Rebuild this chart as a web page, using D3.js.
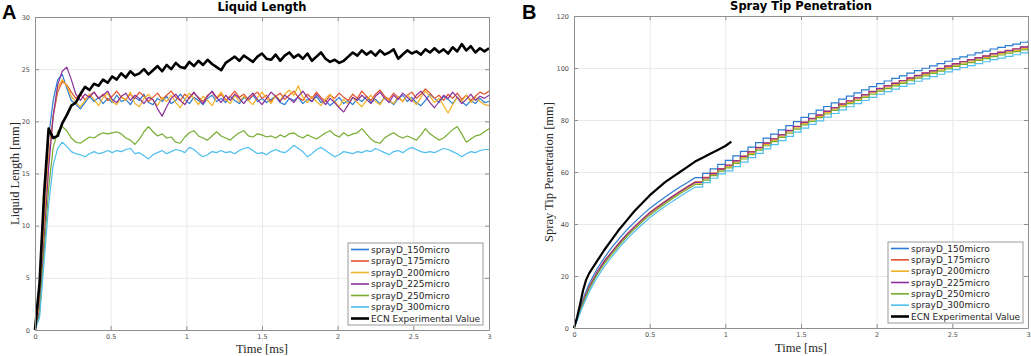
<!DOCTYPE html>
<html>
<head>
<meta charset="utf-8">
<script src="https://cdn.jsdelivr.net/npm/d3@7"></script>
<style>
body { margin: 0; background: #fff; }
svg { display: block; }
.tick text { font-family: "DejaVu Sans", sans-serif; font-size: 6.5px; fill: #4d4d4d; }
.ax-label { font-family: "Liberation Serif", serif; font-size: 12.5px; fill: #262626; }
.title { font-family: "DejaVu Sans", sans-serif; font-weight: bold; font-size: 11.5px; fill: #000; }
.letter { font-family: "Liberation Sans", Arial, sans-serif; font-weight: bold; font-size: 20px; fill: #000; }
.legend text { font-family: "DejaVu Sans", sans-serif; font-size: 9px; fill: #262626; }
</style>
</head>
<body>
<svg id="chart" width="1031" height="356"></svg>
<script>
// ---- data: panel A, liquid length [mm] vs time [ms]
const timeA = [0, 0.03, 0.06, 0.09, 0.12, 0.15, 0.18, 0.21, 0.24, 0.27,
  0.3, 0.33, 0.36, 0.39, 0.42, 0.45, 0.48, 0.51, 0.54, 0.57,
  0.6, 0.63, 0.66, 0.69, 0.72, 0.75, 0.78, 0.81, 0.84, 0.87,
  0.9, 0.93, 0.96, 0.99, 1.02, 1.05, 1.08, 1.11, 1.14, 1.17,
  1.2, 1.23, 1.26, 1.29, 1.32, 1.35, 1.38, 1.41, 1.44, 1.47,
  1.5, 1.53, 1.56, 1.59, 1.62, 1.65, 1.68, 1.71, 1.74, 1.77,
  1.8, 1.83, 1.86, 1.89, 1.92, 1.95, 1.98, 2.01, 2.04, 2.07,
  2.1, 2.13, 2.16, 2.19, 2.22, 2.25, 2.28, 2.31, 2.34, 2.37,
  2.4, 2.43, 2.46, 2.49, 2.52, 2.55, 2.58, 2.61, 2.64, 2.67,
  2.7, 2.73, 2.76, 2.79, 2.82, 2.85, 2.88, 2.91, 2.94, 2.97,
  3.0];

const lenD150 = [0, 3, 12, 18.5, 22, 24, 24.5, 23.2, 22.0, 21.6,
  21.2, 21.8, 22.4, 21.9, 22.3, 21.7, 22.2, 21.8, 22.5, 21.9,
  22.1, 21.6, 22.3, 22.0, 22.6, 21.8, 21.6, 22.2, 21.9, 22.4,
  21.7, 22.0, 22.6, 22.1, 21.7, 22.3, 22.0, 21.6, 22.2, 22.5,
  21.9, 22.2, 21.8, 22.4, 22.0, 21.7, 22.3, 22.0, 22.5, 21.9,
  22.2, 21.8, 22.1, 22.4, 21.8, 21.6, 22.2, 22.0, 22.3, 21.7,
  22.1, 21.9, 22.4, 21.8, 22.0, 21.5, 21.9, 22.3, 21.7, 22.0,
  21.6, 22.2, 21.9, 22.4, 21.8, 22.1, 21.7, 22.3, 22.0, 21.6,
  22.2, 22.5, 21.9, 22.3, 21.8, 21.5, 22.0, 22.6, 22.2, 21.8,
  22.4, 22.1, 21.7, 22.3, 21.9, 21.5, 22.0, 21.7, 22.2, 21.8,
  21.9];

const lenD175 = [0, 2.5, 10, 16.5, 20.5, 22.8, 23.8, 23.5, 22.8, 22.2,
  22.6, 22.1, 22.5, 22.8, 22.2, 22.6, 22.0, 22.4, 22.9, 22.3,
  22.1, 22.6, 22.2, 22.8, 22.4, 21.9, 22.3, 22.7, 22.1, 22.5,
  22.9, 22.3, 22.0, 22.6, 22.2, 22.7, 22.3, 21.9, 22.5, 22.8,
  22.2, 22.6, 22.0, 22.4, 22.9, 22.3, 22.6, 22.1, 22.5, 22.8,
  22.2, 22.5, 21.9, 22.4, 22.7, 22.1, 22.5, 22.9, 22.3, 22.0,
  22.6, 22.2, 22.8, 22.3, 21.9, 22.5, 22.2, 22.7, 22.3, 22.0,
  22.6, 22.2, 22.9, 22.4, 22.0, 22.6, 23.0, 22.4, 22.1, 22.7,
  22.3, 21.9, 22.5, 22.8, 22.2, 22.6, 23.1, 22.7, 22.2, 22.5,
  22.0, 22.6, 22.2, 22.7, 22.1, 22.5, 22.0, 22.4, 22.8, 22.6,
  22.9];

const lenD200 = [0, 2.2, 9.5, 16, 20.5, 23.2, 24.0, 23.4, 22.4, 21.8,
  21.4, 22.0, 22.6, 22.1, 21.5, 22.3, 22.7, 21.9, 21.6, 22.4,
  22.0, 22.8, 21.7, 21.4, 22.2, 22.6, 22.0, 21.5, 22.3, 21.9,
  22.5, 21.8, 21.3, 22.1, 22.7, 22.2, 21.6, 22.4, 22.0, 21.5,
  22.3, 22.8, 22.1, 21.7, 22.5, 21.9, 22.4, 22.0, 21.6, 22.3,
  22.8, 22.2, 21.7, 22.5, 22.0, 22.6, 23.0, 22.5, 23.4, 22.3,
  21.8, 22.4, 21.9, 21.5, 22.2, 22.6, 21.9, 21.4, 22.1, 21.7,
  22.3, 21.8, 21.4, 22.0, 22.5, 21.9, 21.6, 22.3, 22.0, 21.7,
  22.4, 21.9, 22.5, 22.1, 21.6, 22.3, 22.9, 22.4, 21.8, 22.2,
  21.5, 20.8, 21.6, 22.3, 21.9, 22.5, 21.8, 22.3, 21.9, 21.6,
  21.5];

const lenD225 = [0, 1.8, 8.5, 15.5, 20.5, 23.5, 24.8, 25.2, 24.0, 22.6,
  22.0, 22.6, 22.3, 22.8, 22.2, 22.5, 22.9, 22.1, 21.8, 22.4,
  22.7, 22.0, 22.5, 22.2, 21.7, 22.3, 22.1, 21.2, 20.5, 21.4,
  22.2, 22.6, 22.0, 21.6, 22.3, 22.8, 22.2, 21.7, 22.4, 22.9,
  22.3, 21.8, 22.5, 22.0, 22.6, 22.2, 21.7, 22.3, 22.7, 22.1,
  21.6, 22.2, 22.8, 22.4, 21.9, 22.5, 22.2, 21.8, 22.4, 22.9,
  22.3, 21.9, 22.6, 22.1, 21.6, 22.2, 21.8, 21.3, 20.9, 21.6,
  22.3, 22.0, 22.5, 22.1, 21.7, 22.4, 22.8, 22.2, 21.8, 22.5,
  22.1, 22.7, 22.3, 21.9, 22.5, 22.9, 22.4, 21.8, 21.3, 21.9,
  22.5, 22.2, 22.8, 22.3, 21.7, 22.1, 22.6, 22.0, 22.4, 22.2,
  22.5];

const lenD250 = [0, 1.5, 7.5, 13.5, 17.5, 19.0, 19.5, 19.1, 18.4, 18.0,
  17.9, 18.2, 18.5, 18.4, 18.7, 18.9, 18.8, 18.9, 19.0, 18.8,
  18.4, 18.2, 17.8, 18.3, 19.0, 19.5, 19.0, 18.6, 18.8, 18.4,
  18.5, 18.0, 17.9, 18.5, 18.9, 19.1, 18.6, 18.4, 18.2, 18.6,
  19.0, 18.6, 18.4, 18.2, 18.6, 18.9, 19.1, 18.6, 18.5, 18.8,
  18.7, 18.5, 18.6, 18.4, 18.7, 18.5, 18.8, 18.9, 18.6, 18.4,
  18.7, 18.5, 18.3, 18.6, 18.9, 19.1, 18.7, 18.5, 18.9, 18.6,
  18.8, 18.9, 19.3, 18.8, 18.3, 18.0, 17.9, 18.4, 18.7, 18.9,
  18.6, 18.4, 18.6, 18.4, 18.2, 18.7, 19.3, 18.8, 18.5, 18.2,
  18.4, 18.8, 19.2, 19.5, 18.8, 18.0, 18.3, 18.6, 18.7, 19.0,
  19.3];

const lenD300 = [0, 1.2, 6.5, 12, 15.8, 17.4, 18.0, 17.6, 17.1, 16.9,
  16.8, 16.6, 16.9, 17.1, 16.9, 17.0, 17.2, 17.0, 17.2, 17.1,
  17.3, 17.4, 16.9, 17.0, 16.7, 16.4, 16.8, 17.0, 17.2, 16.9,
  17.1, 17.3, 17.2, 17.0, 17.5, 17.3, 16.9, 16.6, 16.8, 17.1,
  17.0, 17.2, 17.0, 17.1, 16.9, 17.2, 17.4, 17.5, 17.2, 16.9,
  17.0, 16.8, 17.1, 17.3, 17.1, 17.0, 17.3, 17.7, 17.4, 17.1,
  16.6, 16.9, 17.3, 17.5, 17.2, 16.9, 16.6, 16.8, 17.1, 17.0,
  16.9, 17.1, 17.0, 17.2, 17.1, 17.4, 17.2, 17.0, 16.8, 17.1,
  17.2, 17.0, 17.3, 17.5, 17.3, 17.1, 17.0, 17.1, 17.0, 17.2,
  17.4, 17.3, 17.1, 16.9, 16.6, 16.9, 17.1, 17.0, 17.2, 17.3,
  17.3];

const lenECN = [0, 4.5, 13, 19.3, 18.4, 18.6, 19.8, 20.6, 21.5, 21.8,
  22.6, 23.3, 23.0, 23.6, 23.4, 24.0, 23.7, 24.3, 24.0, 24.6,
  24.2, 24.8, 24.4, 24.6, 25.0, 24.5, 24.9, 25.3, 24.8, 25.4,
  25.0, 25.6, 25.2, 25.1, 25.7, 25.3, 25.8, 25.4, 25.9, 25.5,
  25.2, 24.9, 25.6, 25.9, 26.2, 25.8, 26.3, 26.0, 25.7, 26.2,
  26.5, 26.0, 25.9, 26.4, 25.8, 26.3, 26.6, 26.1, 26.4, 26.0,
  26.5, 25.8, 26.2, 26.6, 26.0, 25.7, 25.9, 25.6, 25.8, 26.2,
  26.6, 26.3, 26.8, 26.4, 26.7, 26.3, 26.8, 26.4, 26.6, 26.9,
  26.0, 26.4, 26.8, 26.5, 26.7, 26.4, 26.9, 26.6, 27.0, 26.6,
  26.9, 26.5, 27.1, 26.7, 27.4, 26.8, 27.2, 26.6, 27.0, 26.7,
  27.0];

// ---- data: panel B, spray tip penetration [mm] vs time [ms]
const timeB = [0, 0.025, 0.05, 0.075, 0.1, 0.15, 0.2, 0.25, 0.3, 0.35,
  0.4, 0.45, 0.5, 0.55, 0.6, 0.65, 0.7, 0.75, 0.8, 0.85,
  0.9, 0.95, 1.0, 1.05, 1.1, 1.15, 1.2, 1.25, 1.3, 1.35,
  1.4, 1.45, 1.5, 1.55, 1.6, 1.65, 1.7, 1.75, 1.8, 1.85,
  1.9, 1.95, 2.0, 2.05, 2.1, 2.15, 2.2, 2.25, 2.3, 2.35,
  2.4, 2.45, 2.5, 2.55, 2.6, 2.65, 2.7, 2.75, 2.8, 2.85,
  2.9, 2.95, 3.0];

const penD150 = [0, 5, 9.5, 13.5, 17, 22.5, 27, 31, 34.5, 37.8,
  40.7, 43.4, 46, 48.2, 50.3, 52.3, 54.2, 56, 57.8, 59.5,
  61.2, 62.9, 64.5, 66.2, 67.9, 69.6, 71.3, 73, 74.6, 76.2,
  77.8, 79.4, 81, 82.4, 83.8, 85.2, 86.6, 88, 89.2, 90.4,
  91.6, 92.8, 94, 95, 96, 97, 98, 99, 99.9, 100.8,
  101.7, 102.6, 103.5, 104.3, 105, 105.8, 106.5, 107.3, 107.9, 108.6,
  109.2, 109.9, 110.5];

const penD175 = [0, 4.5, 8.7, 12.5, 15.9, 21.3, 25.8, 29.4, 32.9, 36.2,
  39.1, 41.8, 44.4, 46.6, 48.7, 50.7, 52.6, 54.4, 56.2, 57.9,
  59.6, 61.3, 62.7, 64.4, 66.1, 67.8, 69.5, 71.2, 72.8, 74.4,
  76, 77.6, 79.2, 80.6, 82, 83.4, 84.8, 86.2, 87.4, 88.6,
  89.8, 91, 92.2, 93.2, 94.2, 95.2, 96.2, 97.2, 98.1, 99,
  99.9, 100.8, 101.7, 102.5, 103.2, 104, 104.7, 105.5, 106.1, 106.8,
  107.4, 108.1, 108.7];

const penD200 = [0, 4.2, 8.3, 12, 15.4, 20.8, 25.2, 28.9, 32.4, 35.7,
  38.6, 41.3, 43.9, 46.1, 48.2, 50.2, 52.1, 53.9, 55.7, 57.4,
  59.1, 60.8, 62.1, 63.8, 65.5, 67.2, 68.9, 70.6, 72.2, 73.8,
  75.4, 77, 78.6, 80, 81.4, 82.8, 84.2, 85.6, 86.8, 88,
  89.2, 90.4, 91.6, 92.6, 93.6, 94.6, 95.6, 96.6, 97.5, 98.4,
  99.3, 100.2, 101.1, 101.9, 102.6, 103.4, 104.1, 104.9, 105.5, 106.2,
  106.8, 107.5, 108.1];

const penD225 = [0, 4.3, 8.5, 12.2, 15.6, 21, 25.5, 29.2, 32.7, 36,
  38.9, 41.6, 44.2, 46.4, 48.5, 50.5, 52.4, 54.2, 56, 57.7,
  59.4, 61.1, 62.6, 64.3, 66, 67.7, 69.4, 71.1, 72.7, 74.3,
  75.9, 77.5, 79.1, 80.5, 81.9, 83.3, 84.7, 86.1, 87.3, 88.5,
  89.7, 90.9, 92.1, 93.1, 94.1, 95.1, 96.1, 97.1, 98, 98.9,
  99.8, 100.7, 101.6, 102.4, 103.1, 103.9, 104.6, 105.4, 106, 106.7,
  107.3, 108, 108.6];

const penD250 = [0, 4, 8, 11.6, 14.9, 20.3, 24.7, 28.4, 31.9, 35.2,
  38.1, 40.8, 43.4, 45.6, 47.7, 49.7, 51.6, 53.4, 55.2, 56.9,
  58.6, 60.3, 61.6, 63.3, 65, 66.7, 68.4, 70.1, 71.7, 73.3,
  74.9, 76.5, 78.1, 79.5, 80.9, 82.3, 83.7, 85.1, 86.3, 87.5,
  88.7, 89.9, 91.1, 92.1, 93.1, 94.1, 95.1, 96.1, 97, 97.9,
  98.8, 99.7, 100.6, 101.4, 102.1, 102.9, 103.6, 104.4, 105, 105.7,
  106.3, 107, 107.6];

const penD300 = [0, 3.5, 7.2, 10.6, 13.8, 19.2, 23.6, 27.4, 30.9, 34.2,
  37.1, 39.8, 42.4, 44.6, 46.7, 48.7, 50.6, 52.4, 54.2, 55.9,
  57.6, 59.3, 60.4, 62.1, 63.8, 65.5, 67.2, 68.9, 70.5, 72.1,
  73.7, 75.3, 76.9, 78.3, 79.7, 81.1, 82.5, 83.9, 85.1, 86.3,
  87.5, 88.7, 89.9, 90.9, 91.9, 92.9, 93.9, 94.9, 95.8, 96.7,
  97.6, 98.5, 99.4, 100.2, 100.9, 101.7, 102.4, 103.2, 103.8, 104.5,
  105.1, 105.8, 106.4];

const timeECN_B = [0, 0.02, 0.04, 0.06, 0.08, 0.1, 0.15, 0.2, 0.25, 0.3,
  0.35, 0.4, 0.45, 0.5, 0.55, 0.6, 0.65, 0.7, 0.75, 0.8,
  0.85, 0.9, 0.95, 1.0, 1.04];
const penECN = [0, 4, 9, 14.5, 18.5, 21, 25.5, 30, 34, 38,
  41.5, 45, 48, 51, 53.5, 56, 58, 60, 62, 64,
  65.5, 67, 68.5, 70, 71.7];

const seriesNames = ["sprayD_150micro", "sprayD_175micro", "sprayD_200micro",
  "sprayD_225micro", "sprayD_250micro", "sprayD_300micro"];
const expName = "ECN Experimental Value";
const xTicks = [0, 0.5, 1, 1.5, 2, 2.5, 3];
const yTicksA = [0, 5, 10, 15, 20, 25, 30];
const yTicksB = [0, 20, 40, 60, 80, 100, 120];

const seriesColors = ["#2a7bd2", "#e2502b", "#f0b224", "#8a2f9a", "#77ac30", "#4dbeee"];

const svg = d3.select("#chart");

function drawAxes(box, yTicks, yMax) {
  const x = d3.scaleLinear().domain([0, 3]).range([box.left, box.right]);
  const y = d3.scaleLinear().domain([0, yMax]).range([box.bottom, box.top]);
  const w = box.right - box.left;
  const h = box.bottom - box.top;
  const g = svg.append("g");

  // grid
  g.append("g")
    .attr("transform", `translate(0,${box.bottom})`)
    .call(d3.axisBottom(x).tickValues(xTicks).tickSize(-h).tickFormat(""))
    .call(a => a.select(".domain").remove())
    .selectAll("line").attr("stroke", "#e8e8e8");
  g.append("g")
    .attr("transform", `translate(${box.left},0)`)
    .call(d3.axisLeft(y).tickValues(yTicks).tickSize(-w).tickFormat(""))
    .call(a => a.select(".domain").remove())
    .selectAll("line").attr("stroke", "#e8e8e8");

  return { x, y, g };
}

function drawFrame(box, ax, yTicks) {
  const tickCol = "#8f8f8f";
  const fr = svg.append("g");
  const bottom = fr.append("g")
    .attr("transform", `translate(0,${box.bottom})`)
    .call(d3.axisBottom(ax.x).tickValues(xTicks).tickSizeInner(-4).tickSizeOuter(0)
      .tickPadding(4).tickFormat(d => d));
  const top = fr.append("g")
    .attr("transform", `translate(0,${box.top})`)
    .call(d3.axisTop(ax.x).tickValues(xTicks).tickSizeInner(-4).tickSizeOuter(0).tickFormat(""));
  const left = fr.append("g")
    .attr("transform", `translate(${box.left},0)`)
    .call(d3.axisLeft(ax.y).tickValues(yTicks).tickSizeInner(-4).tickSizeOuter(0)
      .tickPadding(5).tickFormat(d => d));
  const right = fr.append("g")
    .attr("transform", `translate(${box.right},0)`)
    .call(d3.axisRight(ax.y).tickValues(yTicks).tickSizeInner(-4).tickSizeOuter(0).tickFormat(""));
  [bottom, top, left, right].forEach(a => {
    a.select(".domain").attr("stroke", tickCol);
    a.selectAll(".tick line").attr("stroke", tickCol);
  });
}

function drawLegend(lx, ly, lw, lh) {
  const lg = svg.append("g").attr("class", "legend");
  lg.append("rect")
    .attr("x", lx).attr("y", ly).attr("width", lw).attr("height", lh)
    .attr("fill", "#fff").attr("stroke", "#9a9a9a").attr("stroke-width", 1);
  const items = seriesNames.map((n, i) => ({ name: n, color: seriesColors[i], width: 1.6 }))
    .concat([{ name: expName, color: "#000", width: 2.6 }]);
  const rowH = (lh - 13) / (items.length - 1);
  items.forEach((d, i) => {
    const cy = ly + 6.5 + i * rowH;
    lg.append("line")
      .attr("x1", lx + 3).attr("x2", lx + 21)
      .attr("y1", cy).attr("y2", cy)
      .attr("stroke", d.color).attr("stroke-width", d.width);
    lg.append("text")
      .attr("x", lx + 23).attr("y", cy)
      .attr("dy", "0.35em")
      .text(d.name);
  });
}

// ---------------- Panel A
const boxA = { left: 35, right: 489, top: 17, bottom: 330 };
const axA = drawAxes(boxA, yTicksA, 30);
const lenSeries = [lenD150, lenD175, lenD200, lenD225, lenD250, lenD300];

const lineA = d3.line()
  .x((d, i) => axA.x(timeA[i]))
  .y(d => axA.y(d));

lenSeries.forEach((s, k) => {
  svg.append("path")
    .attr("d", lineA(s))
    .attr("fill", "none")
    .attr("stroke", seriesColors[k])
    .attr("stroke-width", 1.2)
    .attr("stroke-linejoin", "round");
});
svg.append("path")
  .attr("d", lineA(lenECN))
  .attr("fill", "none")
  .attr("stroke", "#000")
  .attr("stroke-width", 2.6)
  .attr("stroke-linejoin", "round");

drawFrame(boxA, axA, yTicksA);
drawLegend(348, 243, 135, 82);

svg.append("text").attr("class", "title")
  .attr("x", (boxA.left + boxA.right) / 2).attr("y", 11)
  .attr("text-anchor", "middle").text("Liquid Length");
svg.append("text").attr("class", "ax-label")
  .attr("x", (boxA.left + boxA.right) / 2).attr("y", 353)
  .attr("text-anchor", "middle").text("Time [ms]");
svg.append("text").attr("class", "ax-label")
  .attr("transform", `translate(19,${(boxA.top + boxA.bottom) / 2}) rotate(-90)`)
  .attr("text-anchor", "middle").text("Liquid Length [mm]");
svg.append("text").attr("class", "letter")
  .attr("x", 2).attr("y", 19).text("A");

// ---------------- Panel B
const boxB = { left: 574, right: 1028, top: 16, bottom: 328 };
const axB = drawAxes(boxB, yTicksB, 120);
const penSeries = [penD150, penD175, penD200, penD225, penD250, penD300];
const stepFrom = 18; // staircase look from t = 0.8 ms on

penSeries.forEach((s, k) => {
  const pts = timeB.map((t, i) => [axB.x(t), axB.y(s[i])]);
  const smooth = d3.line().curve(d3.curveLinear)(pts.slice(0, stepFrom + 1));
  const steps = d3.line().curve(d3.curveStepAfter)(pts.slice(stepFrom));
  svg.append("path")
    .attr("d", smooth + steps.replace(/^M/, "L"))
    .attr("fill", "none")
    .attr("stroke", seriesColors[k])
    .attr("stroke-width", 1.2);
});

const lineECN = d3.line()
  .x((d, i) => axB.x(timeECN_B[i]))
  .y(d => axB.y(d));
svg.append("path")
  .attr("d", lineECN(penECN))
  .attr("fill", "none")
  .attr("stroke", "#000")
  .attr("stroke-width", 2.2)
  .attr("stroke-linejoin", "round");

drawFrame(boxB, axB, yTicksB);
drawLegend(888, 242, 135, 81);

svg.append("text").attr("class", "title")
  .attr("x", (boxB.left + boxB.right) / 2).attr("y", 10)
  .attr("text-anchor", "middle").text("Spray Tip Penetration");
svg.append("text").attr("class", "ax-label")
  .attr("x", (boxB.left + boxB.right) / 2).attr("y", 352)
  .attr("text-anchor", "middle").text("Time [ms]");
svg.append("text").attr("class", "ax-label")
  .attr("transform", `translate(553,${(boxB.top + boxB.bottom) / 2}) rotate(-90)`)
  .attr("text-anchor", "middle").text("Spray Tip Penetration [mm]");
svg.append("text").attr("class", "letter")
  .attr("x", 522).attr("y", 19).text("B");
</script>
</body>
</html>
